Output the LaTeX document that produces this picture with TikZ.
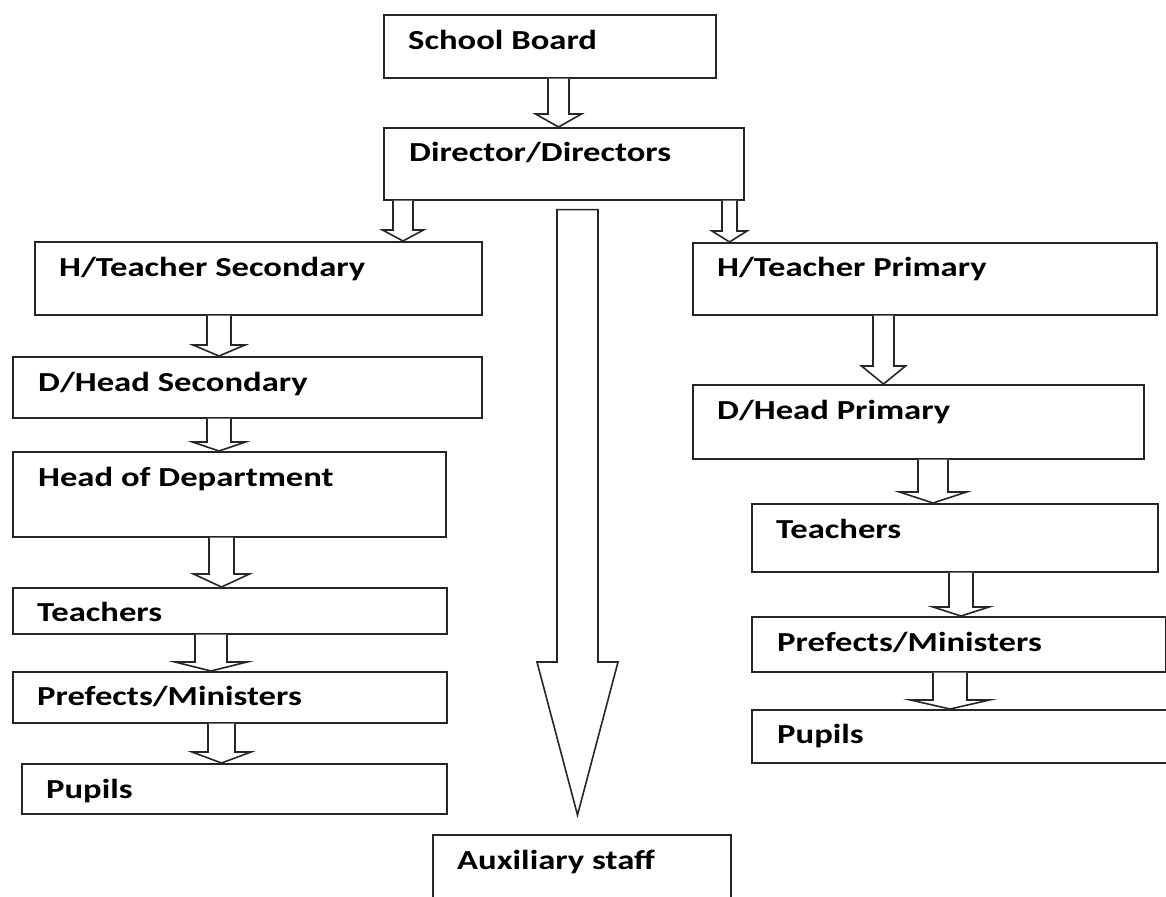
\documentclass[tikz,border=0pt]{standalone}
\usepackage{fontspec}
\newfontfamily\orgfont{Carlito}[FakeStretch=1.26]
\usetikzlibrary{calc}

% hollow block arrow from the bottom of #1 to the top of #2
% #3 centre x, #4 half shaft, #5 half head, #6 head length
\newcommand{\blockdown}[6]{%
  \draw[hollow] let \p1=(#1.south), \p2=(#2.north) in
    (#3pt-#4pt,\y1) -- (#3pt-#4pt,\y2+#6pt) -- (#3pt-#5pt,\y2+#6pt) -- (#3pt,\y2)
    -- (#3pt+#5pt,\y2+#6pt) -- (#3pt+#4pt,\y2+#6pt) -- (#3pt+#4pt,\y1);}

\begin{document}
\begin{tikzpicture}[x=1pt,y=-1pt,
    unit/.style={draw=black!85, line width=1.6pt, rectangle, inner sep=0pt, anchor=north west},
    caption/.style={anchor=base west, inner sep=0pt, text=black,
      font=\orgfont\bfseries\fontsize{27.5}{32}\selectfont},
    hollow/.style={draw=black!85, line width=1.6pt, line join=miter, fill=white}]
  \useasboundingbox (0,0) rectangle (1166,896);
  %%Top
  \node[unit, minimum width=332pt, minimum height=63pt] (board) at (383,14) {};
  \node[unit, minimum width=360pt, minimum height=72pt] (dir) at (383,127) {};
  %%Secondary
  \node[unit, minimum width=447pt, minimum height=73pt] (htsec) at (34,241) {};
  \node[unit, minimum width=469pt, minimum height=61pt] (dhsec) at (12,356) {};
  \node[unit, minimum width=433pt, minimum height=85pt] (hod) at (12,451) {};
  \node[unit, minimum width=434pt, minimum height=46pt] (teachsec) at (12,587) {};
  \node[unit, minimum width=434pt, minimum height=51pt] (prefsec) at (12,671) {};
  \node[unit, minimum width=425pt, minimum height=50pt] (pupsec) at (21,763) {};
  %%Primary
  \node[unit, minimum width=464pt, minimum height=72pt] (htpri) at (692,242) {};
  \node[unit, minimum width=451pt, minimum height=74pt] (dhpri) at (692,384) {};
  \node[unit, minimum width=406pt, minimum height=68pt] (teachpri) at (751,503) {};
  \node[unit, minimum width=414pt, minimum height=55pt] (prefpri) at (751,616) {};
  \node[unit, minimum width=430pt, minimum height=53pt] (puppri) at (751,709) {};
  %%Auxiliary
  \node[unit, minimum width=298pt, minimum height=75pt] (aux) at (432,834) {};

  %%Label
  \node[caption] (board-t) at (408,50) {School Board};
  \node[caption] (dir-t) at (409,162) {Director/Directors};
  \node[caption] (htsec-t) at (59,276) {H/Teacher Secondary};
  \node[caption] (dhsec-t) at (38,391) {D/Head Secondary};
  \node[caption] (hod-t) at (38,486) {Head of Department};
  \node[caption] (teachsec-t) at (37,621) {Teachers};
  \node[caption] (prefsec-t) at (37,705) {Prefects/Ministers};
  \node[caption] (pupsec-t) at (46,798) {Pupils};
  \node[caption] (htpri-t) at (717,276) {H/Teacher Primary};
  \node[caption] (dhpri-t) at (717,419) {D/Head Primary};
  \node[caption] (teachpri-t) at (776,538) {Teachers};
  \node[caption] (prefpri-t) at (777,651) {Prefects/Ministers};
  \node[caption] (puppri-t) at (777,743) {Pupils};
  \node[caption] (aux-t) at (457,869) {Auxiliary staff};

  %%Arrows
  \blockdown{board}{dir}{558.5}{10.5}{23}{13}
  \blockdown{dir}{htsec}{403}{10}{20.5}{11}
  \blockdown{dir}{htpri}{729.5}{7.5}{17.5}{11}
  \blockdown{htsec}{dhsec}{219}{12}{26}{11}
  \blockdown{dhsec}{hod}{219}{12}{26.5}{9}
  \blockdown{hod}{teachsec}{221.5}{12.5}{28}{13}
  \blockdown{teachsec}{prefsec}{211}{16}{36}{9}
  \blockdown{prefsec}{pupsec}{221.5}{13.5}{29.5}{11}
  \blockdown{htpri}{dhpri}{883.5}{10.5}{22}{18}
  \blockdown{dhpri}{teachpri}{933}{15}{33.5}{11}
  \blockdown{teachpri}{prefpri}{961}{12}{28}{9}
  \blockdown{prefpri}{puppri}{950}{17}{39.5}{9}
  %%Big arrow to auxiliary staff
  \draw[hollow] let \p1=(dir.south), \p2=(aux.north) in
    (557pt,\y1-9pt) -- (557pt,\y2+172pt) -- (537pt,\y2+172pt) -- (577.5pt,\y2+19pt)
    -- (618pt,\y2+172pt) -- (598pt,\y2+172pt) -- (598pt,\y1-9pt) -- cycle;
\end{tikzpicture}
\end{document}
